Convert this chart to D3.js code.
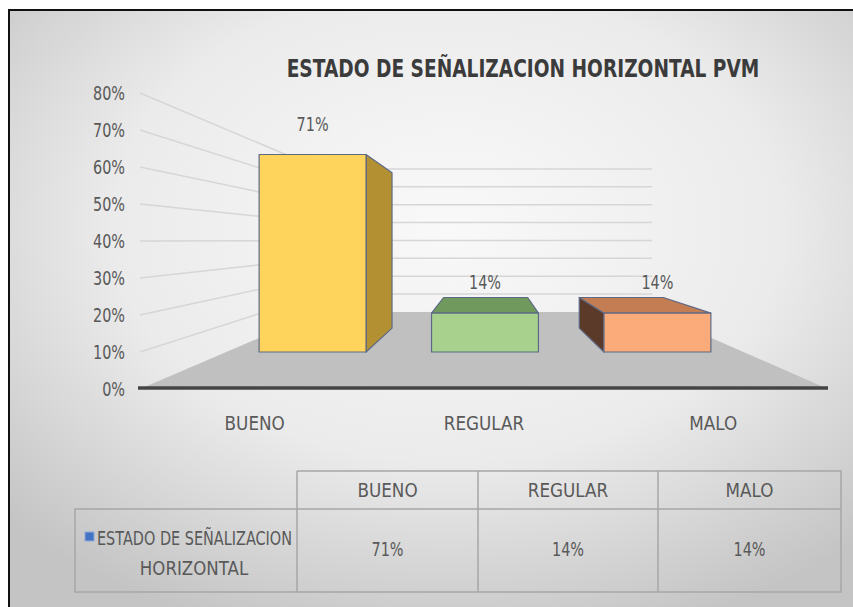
<!DOCTYPE html>
<html>
<head>
<meta charset="utf-8">
<script src="https://cdn.jsdelivr.net/npm/d3@7"></script>
<style>
  html, body { margin: 0; padding: 0; background: #ffffff; }
  svg { display: block; }
  text { font-family: "DejaVu Sans", sans-serif; fill: #595959; }
</style>
</head>
<body>
<svg id="chart" width="853" height="607"></svg>
<script>
// ---- data ----
const chartTitle = "ESTADO DE SEÑALIZACION HORIZONTAL PVM";
const seriesName = ["ESTADO DE SEÑALIZACION", "HORIZONTAL"];
const categories = ["BUENO", "REGULAR", "MALO"];
const values = [0.71, 0.14, 0.14];
const yTicks = [0, 0.1, 0.2, 0.3, 0.4, 0.5, 0.6, 0.7, 0.8];

// ---- styles ----
const barColors = [
  { front: "#ffd45c", side: "#b39132", top: "#e3b43c" },
  { front: "#a9d18e", side: "#5f8a4c", top: "#6f995d" },
  { front: "#fbab7a", side: "#5c3a29", top: "#c47d53" }
];
const pct = d3.format(".0%");
const FS = 20;

// narrow the glyphs of a text selection to a fraction of their natural width
function condense(sel, f) {
  sel.each(function () {
    const w = this.getComputedTextLength();
    d3.select(this).attr("textLength", w * f).attr("lengthAdjust", "spacingAndGlyphs");
  });
  return sel;
}

const svg = d3.select("#chart");
const W = 853, H = 607;

// background with soft grey vignette
const defs = svg.append("defs");
const bg = defs.append("radialGradient").attr("id", "bgGrad")
  .attr("cx", "52%").attr("cy", "36%").attr("r", "72%");
bg.append("stop").attr("offset", "0%").attr("stop-color", "#f9f9f9");
bg.append("stop").attr("offset", "55%").attr("stop-color", "#ebebeb");
bg.append("stop").attr("offset", "100%").attr("stop-color", "#c4c4c4");

svg.append("rect").attr("x", 9).attr("y", 10).attr("width", W - 9).attr("height", H - 10)
  .attr("fill", "url(#bgGrad)");
// frame
svg.append("path").attr("d", `M9,${H} L9,10 L${W},10`)
  .attr("fill", "none").attr("stroke", "#111").attr("stroke-width", 2);

// ---- scales and perspective ----
const x = d3.scaleBand().domain(categories).range([140, 828])
  .paddingInner(0.38).paddingOuter(0.19);
const y = d3.scaleLinear().domain([0, 0.8]).range([389, 93]);
const vanish = [488, 240];
const depth = d3.scaleLinear().domain([0, 1]).range([1, 0.483]); // 0 = front, 1 = back wall
function proj(xf, yf, z) {
  const k = depth(z);
  return [vanish[0] + (xf - vanish[0]) * k, vanish[1] + (yf - vanish[1]) * k];
}
const [xL, xR] = x.range();
const barZ = [0.48, 0.79];

// floor
const floorPts = [[xL, y(0)], [xR, y(0)], proj(xR, y(0), 1), proj(xL, y(0), 1)];
svg.append("polygon").attr("points", floorPts.map(p => p.join(",")).join(" "))
  .attr("fill", "#c0c0c0");

// gridlines: left wall and back wall
const grid = svg.append("g").attr("stroke", "#d6d6d6").attr("stroke-width", 1.5).attr("fill", "none");
yTicks.filter(d => d > 0).forEach(v => {
  const b0 = proj(xL, y(v), 1), b1 = proj(xR, y(v), 1);
  grid.append("path").attr("d", `M${xL},${y(v)} L${b0[0]},${b0[1]} L${b1[0]},${b1[1]}`);
});

// axis line along the front edge of the floor
svg.append("line").attr("x1", xL - 2).attr("x2", xR).attr("y1", y(0) - 1).attr("y2", y(0) - 1)
  .attr("stroke", "#454545").attr("stroke-width", 3.5);

// y axis labels
const yAxis = svg.append("g").attr("transform", `translate(${xL},0)`)
  .call(d3.axisLeft(y).tickValues(yTicks).tickFormat(pct).tickSize(0).tickPadding(15));
yAxis.select(".domain").remove();
condense(yAxis.selectAll("text").attr("font-size", FS).style("fill", "#595959")
  .attr("font-family", "DejaVu Sans, sans-serif"), 0.72);

// category labels
const xAxis = svg.append("g").attr("transform", `translate(0,${y(0)})`)
  .call(d3.axisBottom(x).tickSize(0).tickPadding(27));
xAxis.select(".domain").remove();
condense(xAxis.selectAll("text").attr("font-size", FS).style("fill", "#595959")
  .attr("font-family", "DejaVu Sans, sans-serif"), 0.84);

// 3D bars
const bars = svg.append("g");
categories.forEach((c, i) => {
  const x0 = x(c), x1 = x(c) + x.bandwidth();
  const yt = y(values[i]), yb = y(0);
  const col = barColors[i];
  const g = bars.append("g").attr("stroke", "#5d6a86").attr("stroke-width", 1.2).attr("stroke-linejoin", "round");
  const poly = (pts, fill) => g.append("polygon")
    .attr("points", pts.map(p => p.join(",")).join(" ")).attr("fill", fill);
  // side face
  if (x1 < vanish[0]) {
    poly([proj(x1, yt, barZ[0]), proj(x1, yt, barZ[1]), proj(x1, yb, barZ[1]), proj(x1, yb, barZ[0])], col.side);
  } else if (x0 > vanish[0]) {
    poly([proj(x0, yt, barZ[0]), proj(x0, yt, barZ[1]), proj(x0, yb, barZ[1]), proj(x0, yb, barZ[0])], col.side);
  }
  // top face
  if (yt > vanish[1]) {
    poly([proj(x0, yt, barZ[0]), proj(x1, yt, barZ[0]), proj(x1, yt, barZ[1]), proj(x0, yt, barZ[1])], col.top);
  }
  // front face
  const a = proj(x0, yt, barZ[0]), b = proj(x1, yb, barZ[0]);
  poly([a, [b[0], a[1]], b, [a[0], b[1]]], col.front);
  // value label
  condense(svg.append("text").attr("x", (a[0] + b[0]) / 2).attr("y", a[1] - 24)
    .attr("text-anchor", "middle").attr("font-size", FS).text(pct(values[i])), 0.72);
});

// title: fitted to its width, then stretched upward for tall narrow capitals
const titleText = svg.append("text").attr("x", 0).attr("y", 0).attr("text-anchor", "middle")
  .attr("transform", "translate(523,77) scale(1,1.3)")
  .attr("font-size", 24).attr("font-weight", "bold").style("fill", "#3b3b3b")
  .text(chartTitle);
const tw = titleText.node().getComputedTextLength();
titleText.attr("font-size", Math.min(24, 24 * 473 / tw));

// data table
const tbl = svg.append("g");
const colEdges = [297, 478, 658, 841];
const rowTop = 471, rowMid = 509, rowBot = 592, tblLeft = 75;
const tl = tbl.append("g").attr("stroke", "#a6a6a6").attr("stroke-width", 1.5).attr("fill", "none");
tl.append("path").attr("d",
  `M${colEdges[0]},${rowTop} H${colEdges[3]} V${rowBot} H${tblLeft} V${rowMid} H${colEdges[3]}` +
  ` M${colEdges[0]},${rowTop} V${rowBot} M${colEdges[1]},${rowTop} V${rowBot} M${colEdges[2]},${rowTop} V${rowBot}`);
categories.forEach((c, i) => {
  const cx = (colEdges[i] + colEdges[i + 1]) / 2;
  condense(tbl.append("text").attr("x", cx).attr("y", 497).attr("text-anchor", "middle")
    .attr("font-size", FS).text(c), 0.84);
  condense(tbl.append("text").attr("x", cx).attr("y", 556).attr("text-anchor", "middle")
    .attr("font-size", FS).text(pct(values[i])), 0.72);
});
// legend key and series name
tbl.append("rect").attr("x", 85).attr("y", 532).attr("width", 9).attr("height", 9)
  .attr("fill", "#4472c4").attr("stroke", "#8faadc").attr("stroke-width", 1);
tbl.append("text").attr("x", 194.5).attr("y", 545).attr("text-anchor", "middle")
  .attr("font-size", FS).attr("textLength", 195).attr("lengthAdjust", "spacingAndGlyphs")
  .text(seriesName[0]);
condense(tbl.append("text").attr("x", 194).attr("y", 575).attr("text-anchor", "middle")
  .attr("font-size", FS).text(seriesName[1]), 0.83);
</script>
</body>
</html>
